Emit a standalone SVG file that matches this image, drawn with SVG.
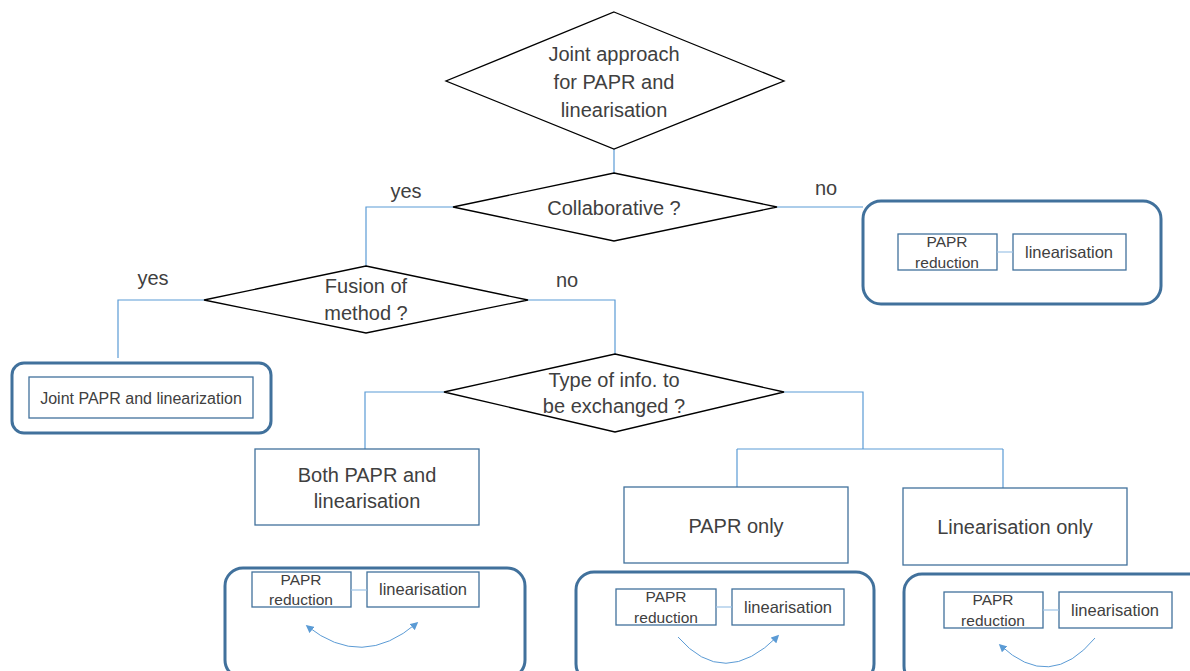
<svg xmlns="http://www.w3.org/2000/svg" width="1190" height="671" viewBox="0 0 1190 671">
<style>
text{font-family:"Liberation Sans",Arial,sans-serif;fill:#404040;text-anchor:middle}
.t20{font-size:20px}
.t16{font-size:16px}
.tl{font-size:16.5px}
.t14{font-size:15.5px}
.dia{fill:#fff;stroke:#000;stroke-width:1.3}
.box{fill:#fff;stroke:#41719C;stroke-width:1.3}
.outer{fill:#fff;stroke:#41719C;stroke-width:3}
.ibox{fill:#fff;stroke:#41719C;stroke-width:1.3}
.con{fill:none;stroke:#5B9BD5;stroke-width:1.2}
.lnk{fill:none;stroke:#9DC3E6;stroke-width:1.2}
.arc{fill:none;stroke:#5B9BD5;stroke-width:1}
</style>
<defs>
<marker id="ah" viewBox="0 0 10 10" refX="8" refY="5" markerWidth="8" markerHeight="8" markerUnits="userSpaceOnUse" orient="auto-start-reverse">
<path d="M0,0 L10,5 L0,10 z" fill="#5B9BD5"/>
</marker>
</defs>
<rect width="1190" height="671" fill="#fff"/>

<g id="connectors">
<path class="con" d="M614,149 V173"/>
<path class="con" d="M453,207 H366 V266"/>
<path class="con" d="M777,207 H863"/>
<path class="con" d="M204,300 H118 V358"/>
<path class="con" d="M528,300 H615 V354"/>
<path class="con" d="M444,392 H365 V449"/>
<path class="con" d="M784,392 H863 V449 M737,449 H1003 M737,449 V487 M1003,449 V488"/>
</g>

<g id="n_joint_approach">
<polygon class="dia" points="614,12 784,81 614,149 446,81"/>
<text class="t20" x="614" y="61">Joint approach</text>
<text class="t20" x="614" y="89">for PAPR and</text>
<text class="t20" x="614" y="117">linearisation</text>
</g>

<g id="n_collaborative">
<polygon class="dia" points="614,173 777,207 614,241 453,207"/>
<text class="t20" x="614" y="215">Collaborative ?</text>
</g>
<g id="lbl_yes1"><text class="t20" x="406" y="198">yes</text></g>
<g id="lbl_no1"><text class="t20" x="826" y="195">no</text></g>

<g id="n_collab_no">
<rect class="outer" x="863" y="201" width="298" height="103" rx="18"/>
<rect class="ibox" x="898" y="234" width="99" height="36"/>
<rect class="ibox" x="1013" y="234" width="113" height="36"/>
<path class="lnk" d="M997,252 H1013"/>
<text class="t14" x="947" y="247">PAPR</text>
<text class="t14" x="947" y="268">reduction</text>
<text class="tl" x="1069" y="258">linearisation</text>
</g>

<g id="n_fusion">
<polygon class="dia" points="366,266 528,300 366,333 204,300"/>
<text class="t20" x="366" y="293">Fusion of</text>
<text class="t20" x="366" y="320">method ?</text>
</g>
<g id="lbl_yes2"><text class="t20" x="153" y="285">yes</text></g>
<g id="lbl_no2"><text class="t20" x="567" y="287">no</text></g>

<g id="n_joint_papr_lin">
<rect class="outer" x="12" y="363" width="259" height="70" rx="12"/>
<rect class="ibox" x="29" y="377" width="224" height="41"/>
<text class="t16" x="141" y="404">Joint PAPR and linearization</text>
</g>

<g id="n_type_info">
<polygon class="dia" points="615,354 784,392 615,432 444,392"/>
<text class="t20" x="614" y="387">Type of info. to</text>
<text class="t20" x="614" y="413">be exchanged ?</text>
</g>

<g id="n_both">
<rect class="box" x="255" y="449" width="224" height="76"/>
<text class="t20" x="367" y="482">Both PAPR and</text>
<text class="t20" x="367" y="508">linearisation</text>
</g>

<g id="n_papr_only">
<rect class="box" x="624" y="487" width="224" height="76"/>
<text class="t20" x="736" y="533">PAPR only</text>
</g>

<g id="n_lin_only">
<rect class="box" x="903" y="488" width="224" height="77"/>
<text class="t20" x="1015" y="534">Linearisation only</text>
</g>

<g id="n_both_detail">
<rect class="outer" x="225" y="568" width="300" height="110" rx="18"/>
<rect class="ibox" x="252" y="572" width="99" height="35"/>
<rect class="ibox" x="367" y="572" width="112" height="35"/>
<path class="lnk" d="M351,590 H367"/>
<text class="t14" x="301" y="585">PAPR</text>
<text class="t14" x="301" y="605">reduction</text>
<text class="tl" x="423" y="595">linearisation</text>
<path class="arc" d="M307,626 Q362,670 417,623" marker-start="url(#ah)" marker-end="url(#ah)"/>
</g>

<g id="n_papr_detail">
<rect class="outer" x="576" y="572" width="298" height="110" rx="18"/>
<rect class="ibox" x="616" y="589" width="100" height="36"/>
<rect class="ibox" x="732" y="589" width="112" height="36"/>
<path class="lnk" d="M716,607 H732"/>
<text class="t14" x="666" y="602">PAPR</text>
<text class="t14" x="666" y="623">reduction</text>
<text class="tl" x="788" y="613">linearisation</text>
<path class="arc" d="M678,637 Q724,690 778,636" marker-end="url(#ah)"/>
</g>

<g id="n_lin_detail">
<rect class="outer" x="904" y="574" width="320" height="110" rx="18"/>
<rect class="ibox" x="944" y="592" width="99" height="36"/>
<rect class="ibox" x="1059" y="592" width="113" height="36"/>
<path class="lnk" d="M1043,610 H1059"/>
<text class="t14" x="993" y="605">PAPR</text>
<text class="t14" x="993" y="626">reduction</text>
<text class="tl" x="1115" y="616">linearisation</text>
<path class="arc" d="M1095,638 Q1050,692 1000,645" marker-end="url(#ah)"/>
</g>
</svg>
